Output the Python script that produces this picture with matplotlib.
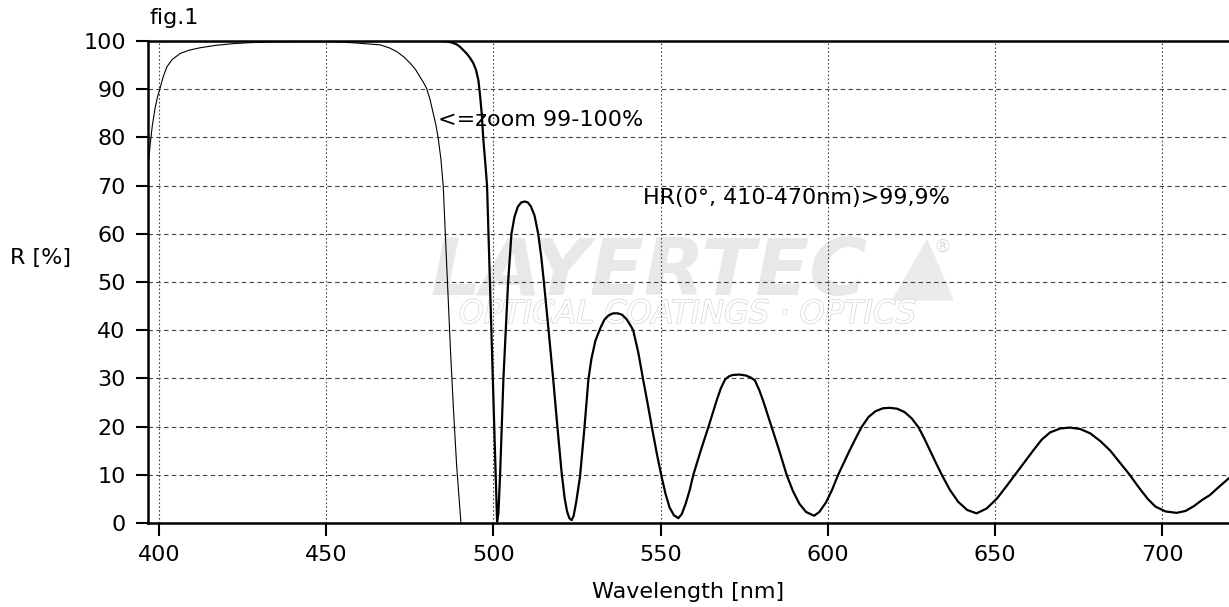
import matplotlib
matplotlib.use("Agg")
import matplotlib.pyplot as plt
import matplotlib.patheffects as pe
from matplotlib.patches import Polygon

# === Datos ===
# curva principal R [%]
wl_main = [396.7, 420, 450, 470, 480, 484, 486, 487.5, 489, 490, 491, 492, 493, 494,
           494.8, 495.5, 496, 496.5, 497, 497.6, 498.1, 499.6, 500.5, 501.1,
           501.5, 502.0, 502.5, 503.0, 503.7, 504.4, 505.4, 506.3, 507.3, 508.3,
           509.4, 510.3, 511.2, 512.3, 513.4, 514.3, 515.1, 516.5, 517.9, 519.2,
           520.4, 521.3, 522.0, 522.7, 523.4, 524.0, 524.8, 525.9, 527.2, 528.4,
           529.3, 530.5, 531.9, 533.2, 534.5, 535.8, 537.2, 538.5, 539.8, 541.0,
           541.8, 543.3, 544.8, 546.2, 547.5, 548.9, 550.3, 551.5, 552.7, 554.0,
           555.3, 556.3, 557.5, 558.7, 559.8, 562.0, 564.3, 566.8, 568.0, 569.3,
           570.4, 571.5, 573.5, 575.5, 576.9, 578.2, 579.5, 580.7, 583.2, 585.5,
           587.7, 589.6, 591.5, 593.5, 595.9, 597.5, 599.5, 601.3, 603.1, 604.8,
           606.5, 608.3, 610.1, 612.2, 614.3, 616.5, 618.6, 620.8, 623.0, 625.1,
           627.1, 628.9, 630.6, 632.4, 634.1, 636.5, 639.0, 641.7, 644.5, 647.5,
           650.5, 653.3, 656.0, 658.7, 661.4, 664.0, 666.5, 669.5, 672.4, 675.5,
           678.5, 681.5, 684.5, 687.4, 690.3, 693.0, 695.7, 698.0, 701.0, 704.3,
           707.0, 709.5, 712.0, 714.3, 717.0, 720.0]
r_main = [100, 100, 100, 100, 100, 100, 99.9, 99.7, 99.3, 98.8, 98.1, 97.4, 96.5, 95.4,
          94.0, 91.9, 88.8, 85, 79.5, 74.5, 70, 35, 14, 0.3,
          2, 10, 20, 30, 40, 50, 60, 63.5, 65.6, 66.5,
          66.7, 66.5, 65.7, 63.8, 60, 55.3, 50, 40, 29.7, 19.5,
          10.5, 5.2, 2.5, 1.0, 0.6, 1.5, 4.5, 9.6, 19.5, 29.7,
          34, 37.8, 40.3, 42.2, 43.1, 43.5, 43.5, 43.2, 42.3, 41,
          40, 35.5, 29.7, 24.5, 19.5, 14.3, 9.6, 6, 3.2, 1.6,
          1.0, 1.8, 4, 6.8, 10, 15, 19.9, 25.5, 27.9, 29.8,
          30.4, 30.7, 30.8, 30.6, 30.2, 29.6, 27.6, 25.3, 19.9, 15,
          10, 6.6, 4.0, 2.3, 1.5, 2.3, 4.3, 6.9, 10, 12.5,
          15, 17.5, 19.9, 22.0, 23.2, 23.8, 23.9, 23.7, 23.0, 21.7,
          19.9, 17.5, 15, 12.4, 10, 6.9, 4.4, 2.7, 2.0, 3,
          5, 7.5, 10, 12.5, 15, 17.3, 18.8, 19.6, 19.8, 19.5,
          18.6, 17, 15, 12.5, 10, 7.4, 5, 3.4, 2.4, 2.1,
          2.5, 3.5, 4.8, 5.8, 7.5, 9.3]

# curva zoom 99-100% (escalada)
wl_zoom = [396.7, 397.0, 397.5, 398.0, 398.8, 399.5, 400.3, 401.3, 402.4, 404.0,
           406.3, 409.0, 412.3, 417.0, 422.1, 427.0, 433.0, 442.0, 451.1, 455.0,
           458.6, 462.5, 466.1, 468.8, 471.1, 473.2, 475.1, 476.7, 478.0, 479.0,
           480.0, 481.0, 482.0, 482.8, 483.5, 484.3, 485.0, 486.1, 487.2, 488.1,
           489.0, 489.7, 490.3]
r_zoom = [74, 76, 79.5, 82.5, 86, 88.3, 90.2, 92.7, 94.7, 96.2,
          97.4, 98.1, 98.6, 99.1, 99.45, 99.65, 99.8, 99.85, 99.85, 99.75,
          99.6, 99.4, 99.2, 98.6, 97.8, 96.7, 95.4, 94.1, 92.6, 91.5,
          90.2, 88, 85, 82.6, 79.8, 75.5, 69.8, 52.5, 35.3, 23,
          12, 5.5, 0]

x_ticks = [400, 450, 500, 550, 600, 650, 700]
y_ticks = [0, 10, 20, 30, 40, 50, 60, 70, 80, 90, 100]

plt.rcParams['font.family'] = ['DejaVu Sans']

fig = plt.figure(figsize=(12.29, 6.07), dpi=100)
ax = fig.add_axes([148 / 1229, 84 / 607, 1081 / 1229, 482 / 607])

# === Marca de agua ===
ax.text(0.261, 0.473, "LAYERTEC", transform=ax.transAxes, fontsize=57,
        fontweight='bold', fontstyle='italic', color='#e8e8e8',
        ha='left', va='baseline', zorder=0)
ax.add_patch(Polygon([[0.689, 0.4627], [0.7206, 0.587], [0.7447, 0.4627]],
                     closed=True, transform=ax.transAxes, color='#ebebeb', zorder=0))
ax.text(0.7354, 0.5726, "®", transform=ax.transAxes, fontsize=13,
        color='#dcdcdc', ha='center', va='center', zorder=0)
ax.text(0.4995, 0.415, "OPTICAL COATINGS · OPTICS", transform=ax.transAxes,
        fontsize=23, fontstyle='italic', color='white', ha='center', va='baseline',
        zorder=0,
        path_effects=[pe.Stroke(linewidth=1.0, foreground='#d6d6d6'), pe.Normal()])

# === Rejilla ===
for y in y_ticks[1:-1]:
    ax.axhline(y, color='#444444', lw=0.8, ls=(0, (4, 3)), zorder=1)
for x in x_ticks:
    ax.axvline(x, color='#444444', lw=0.8, ls=(0, (1.5, 2)), zorder=1)

# === Curvas ===
ax.plot(wl_zoom, r_zoom, color='black', lw=0.8, zorder=3)
ax.plot(wl_main, r_main, color='black', lw=1.6, zorder=4)

ax.set_xlim(396.7, 720)
ax.set_ylim(0, 100)
ax.set_xticks(x_ticks)
ax.set_yticks(y_ticks)
ax.tick_params(direction='out', length=9, width=1.5, labelsize=16, pad=7)

for side in ['left', 'bottom', 'top']:
    ax.spines[side].set_linewidth(1.8)
ax.spines['right'].set_visible(False)

# === Textos ===
ax.text(483.4, 83.6, "<=zoom 99-100%", fontsize=16, ha='left', va='center', zorder=5)
ax.text(544.7, 67.4, "HR(0°, 410-470nm)>99,9%", fontsize=16, ha='left', va='center', zorder=5)
fig.text(150 / 1229, 1 - 18 / 607, "fig.1", fontsize=16, ha='left', va='center')
fig.text(10 / 1229, 1 - 258 / 607, "R [%]", fontsize=16, ha='left', va='center')
fig.text((148 + 1081 / 2) / 1229, 1 - 592 / 607, "Wavelength [nm]", fontsize=16,
         ha='center', va='center')

fig.savefig("out.png", dpi=100)
plt.close(fig)
